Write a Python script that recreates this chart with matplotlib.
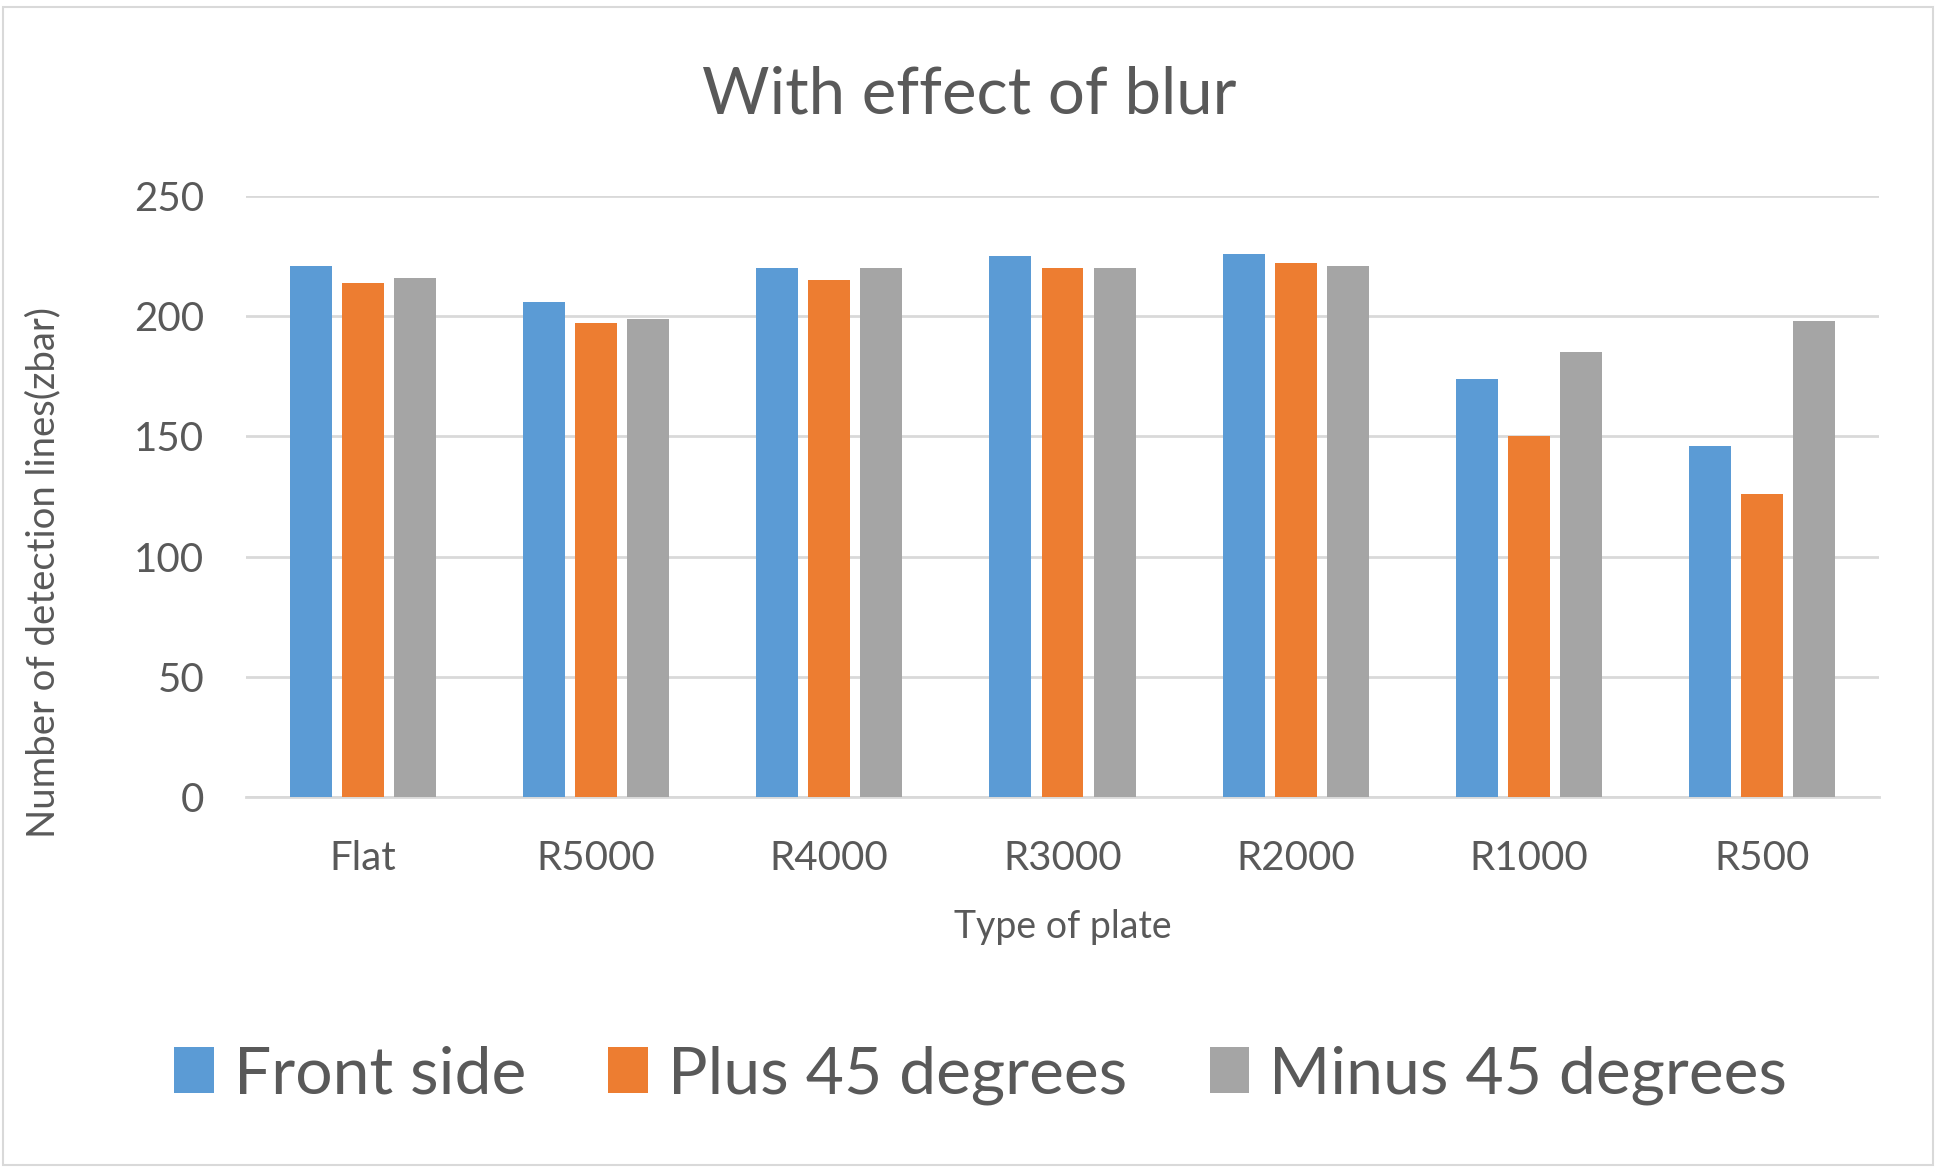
import matplotlib
matplotlib.use("Agg")
import matplotlib.pyplot as plt
import numpy as np
from matplotlib.patches import Rectangle

categories = ["Flat", "R5000", "R4000", "R3000", "R2000", "R1000", "R500"]
front_side = [221, 206, 220, 225, 226, 174, 146]
plus_45 = [214, 197, 215, 220, 222, 150, 126]
minus_45 = [216, 199, 220, 220, 221, 185, 198]
series_names = ["Front side", "Plus 45 degrees", "Minus 45 degrees"]
y_ticks = [0, 50, 100, 150, 200, 250]

colors = ["#5B9BD5", "#ED7D31", "#A5A5A5"]
text_color = "#595959"
grid_color = "#D9D9D9"

plt.rcParams['font.family'] = ['Lato', 'DejaVu Sans']

W, H = 1938, 1168
fig = plt.figure(figsize=(W / 100, H / 100), dpi=100)
fig.patch.set_facecolor("white")

# chart border
fig.add_artist(Rectangle((3 / W, 3 / H), 1 - 8 / W, 1 - 10 / H, transform=fig.transFigure,
                         fill=False, edgecolor=grid_color, linewidth=1.5))

ax = fig.add_axes([246 / W, 1 - 797 / H, (1879 - 246) / W, (797 - 196) / H])
x = np.arange(len(categories))
bw = 0.18
off = 0.223
for i, (vals, name) in enumerate(zip([front_side, plus_45, minus_45], series_names)):
    ax.bar(x + (i - 1) * off, vals, width=bw, color=colors[i], label=name, zorder=3)

ax.set_xlim(-0.5, len(categories) - 0.5)
ax.set_ylim(0, 250)
ax.set_yticks(y_ticks)
ax.set_xticks(x)
ax.set_xticklabels(categories)
ax.tick_params(axis="both", length=0, labelsize=29, colors=text_color)
ax.tick_params(axis="x", pad=31)
ax.tick_params(axis="y", pad=30)
ax.yaxis.grid(True, color=grid_color, linewidth=2, zorder=0)
for s in ["top", "right", "left"]:
    ax.spines[s].set_visible(False)
ax.spines["bottom"].set_color(grid_color)
ax.spines["bottom"].set_linewidth(2)

ax.set_xlabel("Type of plate", fontsize=27, color=text_color, labelpad=23)
fig.text(43 / W, 1 - 573 / H, "Number of detection lines(zbar)", rotation=90,
         fontsize=27.5, color=text_color, ha="center", va="center")

fig.text(0.5, 1 - 95 / H, "With effect of blur", fontsize=47, color=text_color,
         ha="center", va="center")

fig.legend(loc="center", bbox_to_anchor=(0.506, 1 - 1075 / H), ncol=3, frameon=False,
           fontsize=47.5, labelcolor=text_color, handlelength=0.6, handleheight=0.7,
           handletextpad=0.3, columnspacing=1.25)

fig.savefig("out.png", dpi=100, facecolor="white")
